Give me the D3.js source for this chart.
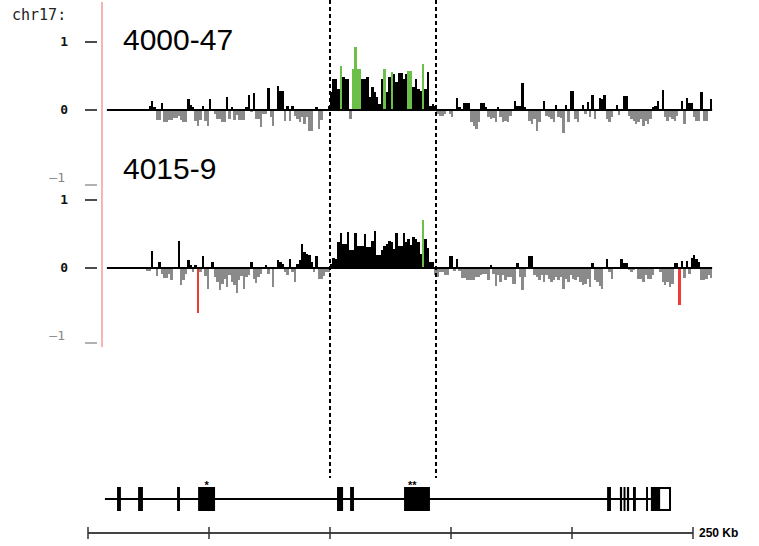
<!DOCTYPE html>
<html>
  <head>
    <script src="https://d3js.org/d3.v7.min.js"></script>
    <style>
      body { margin: 0; background: #fff; }
      .mono { font-family: "DejaVu Sans Mono", monospace; }
      .name { font-family: "Liberation Sans", Arial, sans-serif; font-size: 30px; }
      rect.bar { shape-rendering: crispEdges; }
    </style>
  </head>
  <body>
    <svg id="chart" width="759" height="546"></svg>
  </body>
  <script>

    // bars: one value per 1 kb slot, starting at kb 24
    var barStart = 24;

    var track1 = [0, 0.06, 0.13, 0.04, -0.15, -0.15, 0.10, -0.18, -0.18, -0.15,
      -0.15, -0.12, -0.12, -0.09, -0.15, -0.18, -0.18, 0.16, 0.07, 0.04,
      -0.16, -0.24, -0.15, 0.06, -0.16, -0.24, 0.16, 0, -0.06, -0.13,
      -0.13, -0.18, -0.18, 0.19, -0.13, 0.04, -0.15, -0.07, -0.15, -0.15,
      -0.15, 0.04, 0.22, -0.03, 0.25, -0.13, -0.13, -0.25, -0.06, -0.06,
      0.32, -0.10, -0.24, 0, 0.35, 0.28, 0.28, -0.16, 0.06, -0.16,
      0.06, -0.09, -0.13, -0.18, -0.10, -0.21, -0.10, -0.31, -0.31, 0,
      0.04, -0.28, -0.15, 0, 0, 0.06, 0.26, 0.46, 0.46, 0.31,
      0.65, 0.49, 0.46, 0.46, -0.13, 0.60, 0.93, 0.60, 0.60, 0.46,
      0.46, 0.49, 0.19, 0.34, 0.26, 0.19, 0.09, 0.46, 0.60, 0.26,
      0.49, 0.56, 0.53, 0.41, 0.54, 0.54, 0.46, 0.53, 0.57, 0.57,
      0.34, 0.46, 0.31, 0.28, 0.68, 0.31, 0.56, 0.06, 0.09, 0.06,
      -0.06, -0.09, -0.09, -0.06, 0, -0.06, -0.10, 0, 0.18, 0.04,
      0, 0.10, 0.10, 0.10, -0.18, -0.24, -0.28, -0.18, 0.10, 0.10,
      0.04, -0.10, -0.13, -0.12, -0.18, 0.04, -0.10, -0.18, -0.16, -0.18,
      -0.09, 0, 0.13, 0.06, 0.06, 0.40, 0.04, 0, -0.16, -0.21,
      -0.13, -0.31, -0.18, 0, 0.13, -0.09, -0.10, -0.13, -0.18, 0.07,
      -0.10, -0.12, -0.34, 0.07, -0.18, 0.28, 0.28, -0.13, -0.18, 0,
      0.07, -0.06, 0.12, -0.10, 0.22, -0.13, 0, 0.18, 0.16, 0.22,
      -0.13, -0.18, -0.10, 0, 0.07, -0.07, 0, 0.21, 0.21, -0.09,
      -0.13, -0.16, -0.21, -0.18, -0.13, -0.24, -0.16, -0.21, -0.13, 0.04,
      0.06, 0.13, 0, 0.29, -0.10, -0.16, -0.10, -0.13, -0.16, -0.09,
      0, 0.13, -0.21, 0.18, 0.10, 0.10, -0.10, -0.16, -0.16, 0.26,
      -0.16, -0.16, 0, 0.16];

    var track2 = [-0.04, -0.04, 0.25, 0, -0.12, 0.09, -0.09, -0.15, -0.15, -0.09,
      -0.18, 0, 0, 0.40, -0.25, -0.18, -0.09, 0.12, 0.04, -0.06,
      0.04, -0.66, -0.06, 0.18, -0.12, -0.31, 0, 0.09, -0.13, -0.21,
      -0.32, -0.24, -0.16, -0.28, -0.10, -0.21, -0.25, -0.37, -0.18, -0.12,
      -0.31, -0.13, -0.10, 0.09, -0.16, -0.22, -0.13, -0.09, 0, 0.04,
      -0.09, 0, -0.28, 0, 0.12, 0.09, 0.06, -0.06, -0.10, 0.13,
      -0.06, -0.21, 0.06, 0.12, 0.35, 0.24, 0.21, 0.19, 0.09, -0.06,
      0.18, -0.16, -0.16, -0.12, -0.06, -0.06, 0.06, 0.15, 0.13, 0.38,
      0.51, 0.35, 0.35, 0.53, 0.26, 0.26, 0.51, 0.32, 0.32, 0.32,
      0.50, 0.31, 0.31, 0.40, 0.54, 0.19, 0.19, 0.26, 0.32, 0.35,
      0.40, 0.38, 0.28, 0.51, 0.32, 0.32, 0.51, 0.38, 0.43, 0.34,
      0.46, 0.43, 0.38, 0.21, 0.71, 0.43, 0.29, 0.09, 0.09, -0.10,
      -0.13, -0.06, -0.06, -0.10, -0.10, 0.18, 0.18, -0.04, 0.13, -0.04,
      -0.15, -0.15, -0.18, -0.18, -0.18, -0.18, -0.13, -0.13, -0.10, -0.09,
      -0.09, -0.18, 0.04, -0.09, -0.26, -0.10, -0.21, -0.10, -0.18, -0.13,
      -0.13, -0.24, -0.24, 0.07, -0.13, -0.32, -0.13, 0, 0.18, 0.18,
      -0.10, -0.13, -0.18, -0.10, -0.21, -0.10, -0.16, -0.21, -0.18, -0.13,
      -0.18, -0.13, -0.31, -0.16, -0.21, -0.10, -0.16, -0.18, -0.13, -0.21,
      -0.25, -0.24, -0.16, -0.28, 0.07, -0.18, -0.21, -0.26, -0.31, 0,
      0.13, -0.06, -0.16, 0, 0, 0, 0.13, 0.07, 0.07, -0.03,
      -0.06, -0.03, 0, -0.16, -0.16, -0.21, -0.10, -0.16, -0.16, -0.10,
      0, 0, -0.06, -0.21, -0.25, -0.21, -0.28, -0.24, 0.07, 0.07,
      -0.54, 0.10, -0.15, 0.10, -0.09, 0.15, 0.19, 0.13, 0.09, -0.18,
      -0.18, -0.16, -0.10, -0.15];

    // highlighted slots
    var green1 = [80, 85, 86, 87, 88, 98, 101, 108, 109, 114];
    var green2 = [114];
    var red2 = [21, 220];

    var trackNames = ["4000-47", "4015-9"];
    var yTicks = [1, 0, -1];

    // gene model, kb
    var geneSpan = [7, 232.6];
    var exonStarts = [12.0, 20.7, 36.8, 45.5, 102.9, 108.3, 130.6, 214.5, 219.8, 221.3, 222.7, 225.2, 230.6, 232.6];
    var exonEnds   = [13.6, 22.7, 38.0, 52.5, 105.4, 109.9, 141.3, 216.1, 220.7, 222.1, 223.6, 226.4, 231.4, 236.0];
    var utr = [236.0, 240.5];
    var starKb = [49, 134];
    var starText = ["*", "**"];

    var regionKb = [100, 143.8];
    var trackKb = [7.8, 257.9];
    var scaleTicks = [0, 50, 100, 150, 200, 250];

    var svg = d3.select("#chart");

    var x = d3.scaleLinear().domain([0, 250]).range([88, 693]);

    var tracks = [
      { name: trackNames[0], nameY: 50, values: track1, green: green1, red: [], y: d3.scaleLinear().domain([-1, 1]).range([178, 42]) },
      { name: trackNames[1], nameY: 179, values: track2, green: green2, red: red2, y: d3.scaleLinear().domain([-1, 1]).range([336, 200]) }
    ];

    // pink left border
    svg.append("line")
      .attr("x1", 102).attr("x2", 102).attr("y1", 2).attr("y2", 347)
      .attr("stroke", "#f6b4b4").attr("stroke-width", 2);

    svg.append("text").attr("class", "mono")
      .attr("x", 12).attr("y", 20)
      .attr("font-size", 15).attr("fill", "#222")
      .text("chr17:");

    tracks.forEach(function(t) {
      var g = svg.append("g");

      // axis labels
      yTicks.forEach(function(v) {
        var neg = v < 0;
        g.append("text").attr("class", "mono")
          .attr("x", neg ? 65 : 68).attr("y", t.y(v) + 4)
          .attr("text-anchor", "end")
          .attr("font-size", 13)
          .attr("font-weight", neg ? "normal" : "bold")
          .attr("fill", neg ? "#888" : "#111")
          .text(neg ? "\u2014" + Math.abs(v) : v);
        g.append("line")
          .attr("x1", 85).attr("x2", 97)
          .attr("y1", t.y(v) + (neg ? 7 : 0)).attr("y2", t.y(v) + (neg ? 7 : 0))
          .attr("stroke", neg ? "#999" : "#111").attr("stroke-width", 1.5);
      });

      g.selectAll("rect.bar")
        .data(t.values)
        .enter().append("rect")
        .attr("class", "bar")
        .attr("x", function(d, i) { return x(barStart + i); })
        .attr("width", function(d, i) { return x(barStart + i + 1) - x(barStart + i); })
        .attr("y", function(d) { return d >= 0 ? t.y(d) : t.y(0); })
        .attr("height", function(d) { return Math.abs(t.y(d) - t.y(0)); })
        .attr("fill", function(d, i) {
          if (t.green.indexOf(i) >= 0) return "#6cc04a";
          if (t.red.indexOf(i) >= 0) return "#ee3b36";
          return d >= 0 ? "#000" : "#8a8a8a";
        });

      g.append("line")
        .attr("x1", x(trackKb[0])).attr("x2", x(trackKb[1]))
        .attr("y1", t.y(0)).attr("y2", t.y(0))
        .attr("stroke", "#000").attr("stroke-width", 2);

      g.append("text").attr("class", "name")
        .attr("x", 123).attr("y", t.nameY)
        .text(t.name);
    });

    // dashed region borders
    svg.selectAll("line.region")
      .data(regionKb)
      .enter().append("line")
      .attr("class", "region")
      .attr("x1", function(d) { return x(d); }).attr("x2", function(d) { return x(d); })
      .attr("y1", 0).attr("y2", 478)
      .attr("stroke", "#000").attr("stroke-width", 2)
      .attr("stroke-dasharray", "4,3");

    // gene model
    var geneY = 499, exonH = 24;
    svg.append("line")
      .attr("x1", x(geneSpan[0])).attr("x2", x(geneSpan[1]))
      .attr("y1", geneY).attr("y2", geneY)
      .attr("stroke", "#000").attr("stroke-width", 2);

    svg.selectAll("rect.exon")
      .data(exonStarts)
      .enter().append("rect")
      .attr("class", "exon")
      .attr("x", function(d) { return x(d); })
      .attr("width", function(d, i) { return x(exonEnds[i]) - x(d); })
      .attr("y", geneY - exonH / 2).attr("height", exonH)
      .attr("fill", "#000");

    svg.append("rect")
      .attr("x", x(utr[0])).attr("width", x(utr[1]) - x(utr[0]))
      .attr("y", geneY - exonH / 2 + 1).attr("height", exonH - 2)
      .attr("fill", "#fff").attr("stroke", "#000").attr("stroke-width", 2);

    svg.selectAll("text.star")
      .data(starKb)
      .enter().append("text")
      .attr("class", "star")
      .attr("x", function(d) { return x(d); })
      .attr("y", geneY - exonH / 2 + 2)
      .attr("text-anchor", "middle")
      .attr("font-family", "Liberation Sans, Arial, sans-serif")
      .attr("font-size", 11).attr("font-weight", "bold")
      .text(function(d, i) { return starText[i]; });

    // scale bar
    var sbY = 533;
    svg.append("line")
      .attr("x1", x(0)).attr("x2", x(250))
      .attr("y1", sbY).attr("y2", sbY)
      .attr("stroke", "#444").attr("stroke-width", 2);

    svg.selectAll("line.sbtick")
      .data(scaleTicks)
      .enter().append("line")
      .attr("class", "sbtick")
      .attr("x1", function(d) { return x(d); }).attr("x2", function(d) { return x(d); })
      .attr("y1", sbY - 6).attr("y2", sbY + 6)
      .attr("stroke", "#333").attr("stroke-width", 1.5);

    svg.append("text")
      .attr("x", x(250) + 6).attr("y", sbY + 4)
      .attr("font-family", "Liberation Sans, Arial, sans-serif")
      .attr("font-size", 12).attr("font-weight", "bold")
      .text("250 Kb");

  </script>
</html>
